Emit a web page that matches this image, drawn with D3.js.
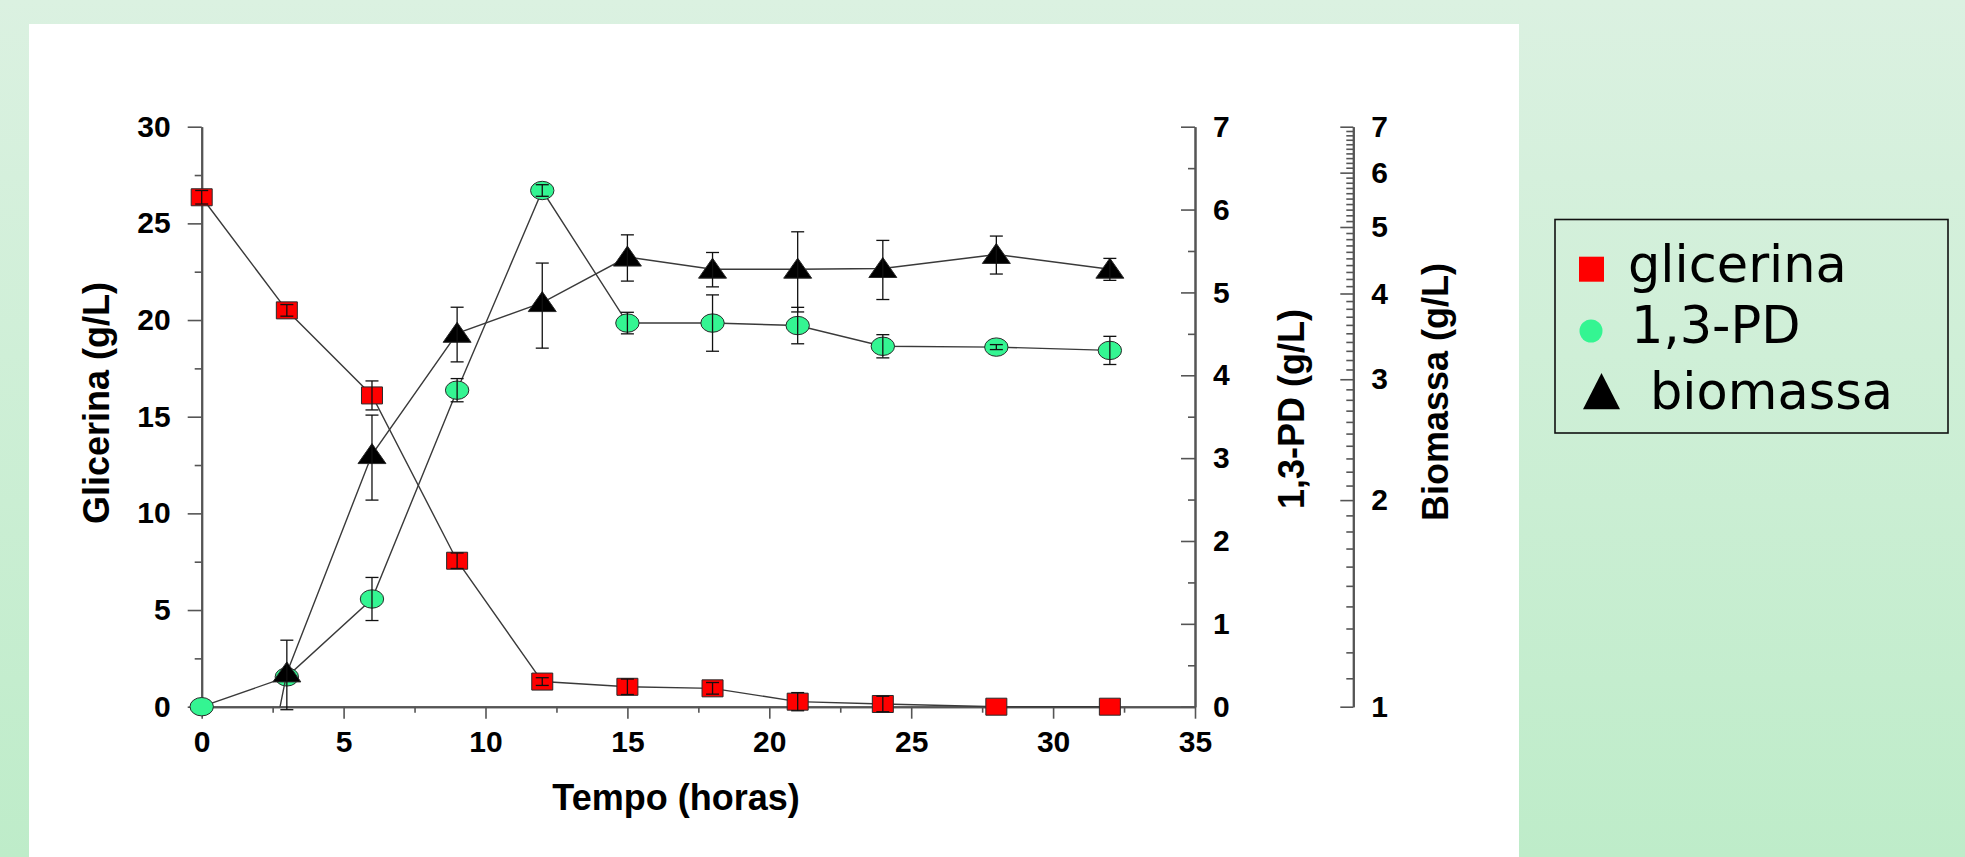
<!DOCTYPE html>
<html>
<head>
<meta charset="utf-8">
<script src="https://cdn.jsdelivr.net/npm/d3@7"></script>
<style>
  body { margin: 0; padding: 0; overflow: hidden; }
  svg { display: block; }
  .tick-label { font-family: "Liberation Sans", Arial, sans-serif; font-weight: bold; font-size: 30px; fill: #000; }
  .axis-title { font-family: "Liberation Sans", Arial, sans-serif; font-weight: bold; font-size: 36px; fill: #000; }
  .legend-text { font-family: "DejaVu Sans", Verdana, sans-serif; font-size: 51px; fill: #000; }
</style>
</head>
<body>
<div id="chart"></div>
<script>
// tempo de fermentação (h)
var hours = [0, 3, 6, 9, 12, 15, 18, 21, 24, 28, 32];

// glicerina (g/L), eixo esquerdo
var glicerina    = [26.35, 20.5, 16.1, 7.55, 1.3, 1.03, 0.95, 0.26, 0.14, 0, 0];
var glicerinaErr = [0.35, 0.3, 0.75, 0.4, 0.2, 0.4, 0.3, 0.47, 0.4, 0, 0];

// 1,3-propanodiol (g/L), primeiro eixo direito
var pd    = [0, 0.36, 1.30, 3.82, 6.23, 4.63, 4.63, 4.60, 4.35, 4.34, 4.30];
var pdErr = [0, 0.05, 0.26, 0.14, 0.07, 0.13, 0.34, 0.22, 0.14, 0.03, 0.17];

// biomassa (g/L), eixo direito em escala log
var biomassa    = [0.27, 1.12, 2.33, 3.50, 3.88, 4.52, 4.34, 4.34, 4.35, 4.56, 4.34];
var biomassaErr = [0, 0.13, 0.33, 0.32, 0.55, 0.35, 0.25, 0.58, 0.43, 0.29, 0.16];

var xTicks = [0, 5, 10, 15, 20, 25, 30, 35];
var glicTicks = [0, 5, 10, 15, 20, 25, 30];
var pdTicks = [0, 1, 2, 3, 4, 5, 6, 7];
var bioTicks = [1, 2, 3, 4, 5, 6, 7];

var legendNames = ["glicerina", "1,3-PD", "biomassa"];

var W = 1965, H = 857;
var plot = { left: 201.7, right: 1195, top: 126.7, bottom: 706.7 };
var bioAxisX = 1353.3;

var svg = d3.select("#chart").append("svg")
    .attr("width", W)
    .attr("height", H);

var defs = svg.append("defs");
var grad = defs.append("linearGradient")
    .attr("id", "bg")
    .attr("x1", 0).attr("y1", 0).attr("x2", 0).attr("y2", 1);
grad.append("stop").attr("offset", "0%").attr("stop-color", "#dbf1e1");
grad.append("stop").attr("offset", "100%").attr("stop-color", "#beecc9");

defs.append("clipPath").attr("id", "plotClip")
    .append("rect")
    .attr("x", plot.left).attr("y", plot.top)
    .attr("width", plot.right - plot.left)
    .attr("height", plot.bottom - plot.top);

svg.append("rect").attr("width", W).attr("height", H).attr("fill", "url(#bg)");
svg.append("rect")
    .attr("x", 29).attr("y", 24)
    .attr("width", 1519 - 29).attr("height", H - 24)
    .attr("fill", "#fff");

// scales
var x = d3.scaleLinear().domain([0, 35]).range([plot.left, plot.right]);
var yG = d3.scaleLinear().domain([0, 30]).range([plot.bottom, plot.top]);
var yP = d3.scaleLinear().domain([0, 7]).range([plot.bottom, plot.top]);
var yB = d3.scaleLog().domain([1, 7]).range([plot.bottom, plot.top]);

var axisColor = "#555";

function styleAxis(g) {
    g.select(".domain").attr("stroke", axisColor).attr("stroke-width", 2);
    g.selectAll(".tick line").attr("stroke", axisColor).attr("stroke-width", 1.6);
    g.selectAll(".tick text").attr("class", "tick-label").attr("fill", "#000");
}

// eixo x
var xMinor = d3.range(2.5, 35, 5);
svg.append("g")
    .attr("transform", "translate(0," + plot.bottom + ")")
    .call(d3.axisBottom(x).tickValues(xMinor).tickSize(6).tickFormat("").tickSizeOuter(0))
    .call(styleAxis);
svg.append("g")
    .attr("transform", "translate(0," + plot.bottom + ")")
    .call(d3.axisBottom(x).tickValues(xTicks).tickSize(12).tickPadding(12).tickSizeOuter(0))
    .call(styleAxis)
    .selectAll(".tick text").attr("dy", "0.71em");

// eixo glicerina
svg.append("g")
    .attr("transform", "translate(" + plot.left + ",0)")
    .call(d3.axisLeft(yG).tickValues(d3.range(2.5, 30, 5)).tickSize(7).tickFormat("").tickSizeOuter(0))
    .call(styleAxis);
svg.append("g")
    .attr("transform", "translate(" + plot.left + ",0)")
    .call(d3.axisLeft(yG).tickValues(glicTicks).tickSize(14).tickPadding(17).tickSizeOuter(0))
    .call(styleAxis);

// eixo 1,3-PD (marcas para dentro)
svg.append("g")
    .attr("transform", "translate(" + plot.right + ",0)")
    .call(d3.axisRight(yP).tickValues(d3.range(0.5, 7, 1)).tickSize(-7).tickFormat("").tickSizeOuter(0))
    .call(styleAxis);
var pdAxis = svg.append("g")
    .attr("transform", "translate(" + plot.right + ",0)")
    .call(d3.axisRight(yP).tickValues(pdTicks).tickSize(-14).tickFormat(d3.format("d")).tickSizeOuter(0))
    .call(styleAxis);
pdAxis.selectAll(".tick text").attr("x", 18);

// eixo biomassa (log)
var bioMinor = d3.range(11, 70).map(function (d) { return d / 10; })
    .filter(function (d) { return d % 1 !== 0; });
svg.append("g")
    .attr("transform", "translate(" + bioAxisX + ",0)")
    .call(d3.axisLeft(yB).tickValues(bioMinor).tickSize(7).tickFormat("").tickSizeOuter(0))
    .call(styleAxis);
var bioAxis = svg.append("g")
    .attr("transform", "translate(" + bioAxisX + ",0)")
    .call(d3.axisLeft(yB).tickValues(bioTicks).tickSize(13).tickFormat(d3.format("d")).tickSizeOuter(0))
    .call(styleAxis);
bioAxis.selectAll(".tick text").attr("x", 18).attr("text-anchor", "start");

// títulos
svg.append("text").attr("class", "axis-title")
    .attr("transform", "translate(109,403) rotate(-90)")
    .attr("text-anchor", "middle")
    .text("Glicerina (g/L)");
svg.append("text").attr("class", "axis-title")
    .attr("x", 676).attr("y", 810)
    .attr("text-anchor", "middle")
    .text("Tempo (horas)");
svg.append("text").attr("class", "axis-title")
    .attr("transform", "translate(1304,409) rotate(-90)")
    .attr("text-anchor", "middle")
    .text("1,3-PD (g/L)");
svg.append("text").attr("class", "axis-title")
    .attr("transform", "translate(1448,392) rotate(-90)")
    .attr("text-anchor", "middle")
    .text("Biomassa (g/L)");

// símbolos (levemente esticados na horizontal, como no original)
function squarePath(w, h) {
    var p = d3.path();
    p.rect(-w / 2, -h / 2, w, h);
    return p.toString();
}
function trianglePath(w, h) {
    var p = d3.path();
    p.moveTo(0, -h * 0.55);
    p.lineTo(w / 2, h * 0.45);
    p.lineTo(-w / 2, h * 0.45);
    p.closePath();
    return p.toString();
}

function drawSeries(cfg) {
    var data = hours.map(function (t, i) {
        return { t: t, v: cfg.values[i], e: cfg.errors[i] };
    });
    var g = svg.append("g");
    var inner = cfg.clip ? g.append("g").attr("clip-path", "url(#plotClip)") : g;

    var line = d3.line()
        .x(function (d) { return x(d.t); })
        .y(function (d) { return cfg.y(d.v); });
    inner.append("path")
        .datum(data)
        .attr("d", line)
        .attr("fill", "none")
        .attr("stroke", "#3a3a3a")
        .attr("stroke-width", 1.4);

    if (cfg.shape === "circle") {
        inner.selectAll("ellipse").data(data).enter().append("ellipse")
            .attr("cx", function (d) { return x(d.t); })
            .attr("cy", function (d) { return cfg.y(d.v); })
            .attr("rx", 11.7).attr("ry", 9.2)
            .attr("fill", cfg.color)
            .attr("stroke", "#2a2a2a").attr("stroke-width", 1);
    } else {
        inner.selectAll("path.sym").data(data).enter().append("path")
            .attr("class", "sym")
            .attr("d", cfg.path)
            .attr("transform", function (d) {
                return "translate(" + x(d.t) + "," + cfg.y(d.v) + ")";
            })
            .attr("fill", cfg.color)
            .attr("stroke", "#2a2a2a").attr("stroke-width", 1);
    }

    var bars = g.selectAll("g.err")
        .data(data.filter(function (d) { return d.e > 0 && d.v > 0; }))
        .enter().append("g").attr("class", "err")
        .attr("stroke", "#111").attr("stroke-width", 1.3);
    bars.append("line")
        .attr("x1", function (d) { return x(d.t); })
        .attr("x2", function (d) { return x(d.t); })
        .attr("y1", function (d) { return cfg.y(d.v + d.e); })
        .attr("y2", function (d) { return cfg.y(d.v - d.e); });
    [1, -1].forEach(function (s) {
        bars.append("line")
            .attr("x1", function (d) { return x(d.t) - 6.5; })
            .attr("x2", function (d) { return x(d.t) + 6.5; })
            .attr("y1", function (d) { return cfg.y(d.v + s * d.e); })
            .attr("y2", function (d) { return cfg.y(d.v + s * d.e); });
    });
}

drawSeries({ values: glicerina, errors: glicerinaErr, y: yG, shape: "square",
    path: squarePath(21, 17), color: "#ff0000" });
drawSeries({ values: pd, errors: pdErr, y: yP, shape: "circle", color: "#34f592" });
drawSeries({ values: biomassa, errors: biomassaErr, y: yB, shape: "triangle",
    path: trianglePath(28, 20), color: "#000", clip: true });

// legenda
var legend = svg.append("g");
legend.append("rect")
    .attr("x", 1555).attr("y", 219.5)
    .attr("width", 393).attr("height", 213.5)
    .attr("fill", "none")
    .attr("stroke", "#111").attr("stroke-width", 1.6);

var legendRows = [
    { name: legendNames[0], baseline: 281.7, textX: 1628 },
    { name: legendNames[1], baseline: 343.3, textX: 1631 },
    { name: legendNames[2], baseline: 409.3, textX: 1650 }
];
legend.append("rect")
    .attr("x", 1579).attr("y", 256.7).attr("width", 25).attr("height", 25)
    .attr("fill", "#ff0000");
legend.append("circle")
    .attr("cx", 1591).attr("cy", 331).attr("r", 11.5)
    .attr("fill", "#34f592");
legend.append("path")
    .attr("d", "M1601.5,373 L1620,409.3 L1583,409.3 Z")
    .attr("fill", "#000");
legend.selectAll("text.legend-text").data(legendRows).enter().append("text")
    .attr("class", "legend-text")
    .attr("x", function (d) { return d.textX; })
    .attr("y", function (d) { return d.baseline; })
    .text(function (d) { return d.name; });
</script>
</body>
</html>
